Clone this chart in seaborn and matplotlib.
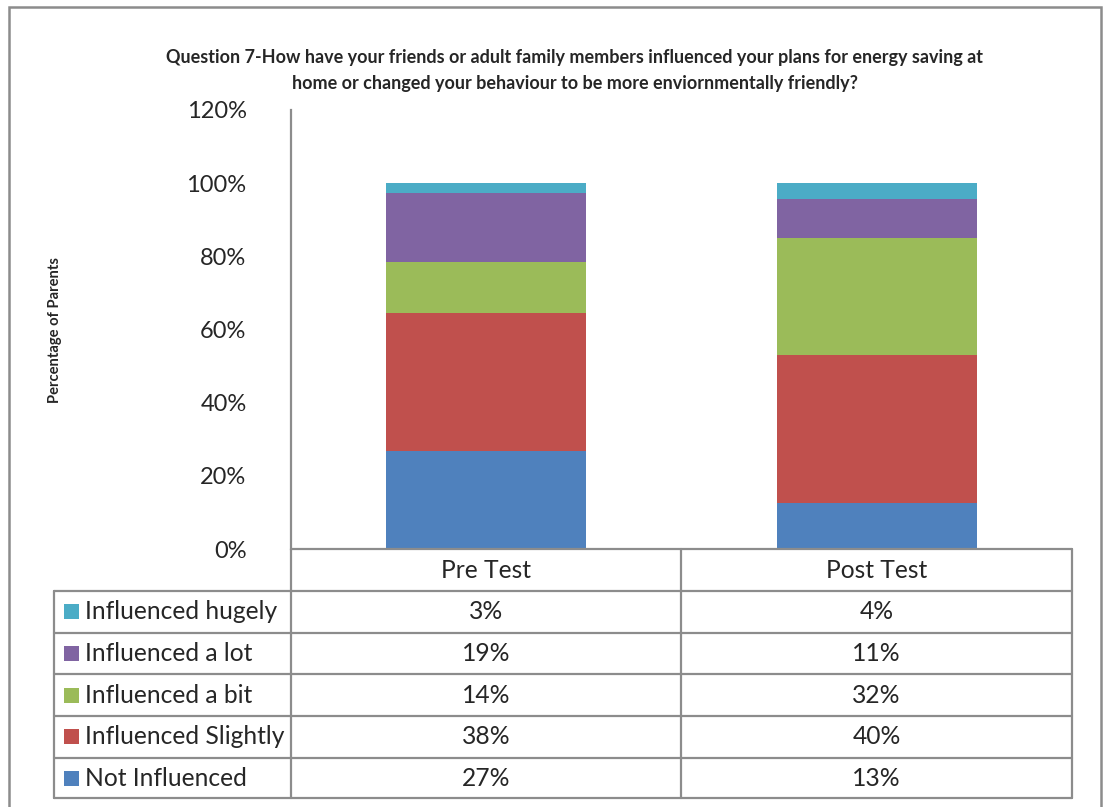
import matplotlib
matplotlib.use("Agg")
import matplotlib.pyplot as plt
from matplotlib.lines import Line2D
from matplotlib.patches import Rectangle
import numpy as np
import pandas as pd
import seaborn as sns

# Survey results (% of parents), stacked from bottom to top
tests = ["Pre Test", "Post Test"]
categories = ["Not Influenced", "Influenced Slightly", "Influenced a bit",
              "Influenced a lot", "Influenced hugely"]
pre_values = [26.7, 37.9, 13.9, 18.9, 2.6]
post_values = [12.6, 40.4, 32.1, 10.6, 4.3]
colors = ["#4F81BD", "#C0504D", "#9BBB59", "#8064A2", "#4BACC6"]
y_ticks = [0, 20, 40, 60, 80, 100, 120]

title_lines = ["Question 7-How have your friends or adult family members influenced your plans for energy saving at",
               "home or changed your behaviour to be more enviornmentally friendly?"]

sns.set_theme(style="white")
plt.rcParams["font.family"] = ["Lato", "DejaVu Sans"]

W, H = 1107, 807
fig = plt.figure(figsize=(W / 100, H / 100), dpi=100)
grid_col = "#8C8C8C"

def fx(px):
    return px / W

def fy(py):
    return 1 - py / H

ax_left, ax_right, ax_top, ax_bottom = 291, 1072, 110, 549
ax = fig.add_axes([fx(ax_left), fy(ax_bottom), fx(ax_right - ax_left), (ax_bottom - ax_top) / H])

df = pd.DataFrame({"test": np.repeat(tests, len(categories)),
                   "category": categories * len(tests),
                   "value": pre_values + post_values})

bottom = np.zeros(len(tests))
for cat, col in zip(categories, colors):
    layer = df[df["category"] == cat].set_index("test").loc[tests].reset_index()
    sns.barplot(data=layer, x="test", y="value", order=tests, color=col,
                saturation=1, width=0.512, bottom=bottom, edgecolor="none",
                linewidth=0, ax=ax)
    bottom = bottom + layer["value"].to_numpy()

ax.set_xlim(-0.5, 1.5)
ax.set_ylim(0, 120)
ax.set_yticks(y_ticks)
ax.set_yticklabels([f"{t}%" for t in y_ticks], fontsize=17)
ax.tick_params(axis="y", length=0, pad=32)
ax.tick_params(axis="x", length=0, labelbottom=False)
ax.set_xlabel("")
ax.set_ylabel("")
for side in ["top", "right", "bottom"]:
    ax.spines[side].set_visible(False)
ax.spines["left"].set_color(grid_col)
ax.spines["left"].set_linewidth(1.6)

# Title and axis label
for line, y in zip(title_lines, [58, 83]):
    fig.text(fx(575), fy(y), line, ha="center", va="center", fontsize=13,
             fontweight="bold")
fig.text(fx(55), fy(330), "Percentage of Parents", rotation=90, ha="center",
         va="center", fontsize=10.6, fontweight="bold")

# Data table below the plot
lw = 1.6
row_edges = [591, 632.7, 674.3, 716, 757.7, 798.3]
col_edges = [291, 681, 1072]
leg_left = 54

def hline(x0, x1, y):
    fig.add_artist(Line2D([fx(x0), fx(x1)], [fy(y), fy(y)], color=grid_col, lw=lw))

def vline(x, y0, y1):
    fig.add_artist(Line2D([fx(x), fx(x)], [fy(y0), fy(y1)], color=grid_col, lw=lw))

hline(col_edges[0], col_edges[-1], ax_bottom)
for y in row_edges:
    hline(leg_left, col_edges[-1], y)
for x in col_edges:
    vline(x, ax_bottom, row_edges[-1])
vline(leg_left, row_edges[0], row_edges[-1])

col_centers = [(col_edges[i] + col_edges[i + 1]) / 2 for i in range(len(tests))]
for cx, t in zip(col_centers, tests):
    fig.text(fx(cx), fy((ax_bottom + row_edges[0]) / 2), t, ha="center",
             va="center", fontsize=17.7)

series = {"Pre Test": pre_values, "Post Test": post_values}
rows = list(zip(categories, colors))[::-1]
for i, (cat, col) in enumerate(rows):
    y0, y1 = row_edges[i], row_edges[i + 1]
    yc = (y0 + y1) / 2
    fig.add_artist(Rectangle((fx(64), fy(yc + 7.5)), fx(15), 15 / H,
                             facecolor=col, edgecolor="none"))
    fig.text(fx(85), fy(yc), cat, ha="left", va="center", fontsize=17.7)
    k = categories.index(cat)
    for cx, t in zip(col_centers, tests):
        fig.text(fx(cx), fy(yc), f"{series[t][k]:.0f}%", ha="center",
                 va="center", fontsize=17.7)

# Outer chart frame
fig.add_artist(Rectangle((fx(9), fy(830)), fx(1101 - 9), (830 - 7) / H,
                         facecolor="none", edgecolor=grid_col, lw=1.8))

fig.savefig("out.png", dpi=100)
